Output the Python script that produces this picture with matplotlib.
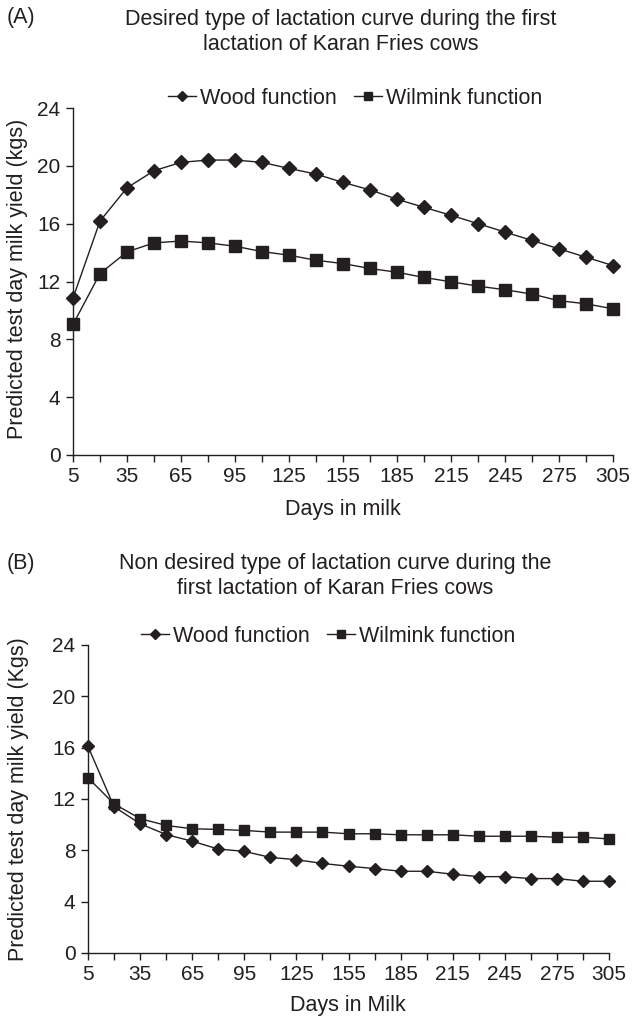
import matplotlib
matplotlib.use("Agg")
import matplotlib.pyplot as plt
from matplotlib.ticker import FixedLocator

plt.rcParams['font.family'] = ['Liberation Sans', 'DejaVu Sans']

days = [5, 20, 35, 50, 65, 80, 95, 110, 125, 140, 155, 170, 185, 200, 215, 230, 245, 260, 275, 290, 305]

wood_a = [10.85, 16.18, 18.48, 19.66, 20.24, 20.4, 20.4, 20.24, 19.82, 19.43, 18.85,
          18.34, 17.69, 17.13, 16.58, 16.0, 15.42, 14.84, 14.26, 13.68, 13.1]
wilmink_a = [9.03, 12.55, 14.05, 14.67, 14.8, 14.67, 14.44, 14.07, 13.82, 13.47, 13.24,
             12.9, 12.64, 12.28, 11.98, 11.68, 11.43, 11.13, 10.67, 10.46, 10.11]

wood_b = [16.1, 11.4, 10.07, 9.23, 8.71, 8.1, 7.92, 7.45, 7.27, 6.98, 6.76,
          6.58, 6.37, 6.37, 6.14, 5.95, 5.95, 5.8, 5.8, 5.59, 5.59]
wilmink_b = [13.65, 11.62, 10.47, 9.94, 9.68, 9.63, 9.55, 9.42, 9.42, 9.42, 9.29,
             9.29, 9.21, 9.21, 9.21, 9.10, 9.10, 9.10, 9.02, 9.02, 8.89]

xtick_labels = [5, 35, 65, 95, 125, 155, 185, 215, 245, 275, 305]
yticks = [0, 4, 8, 12, 16, 20, 24]

W, H = 634, 1019
fig = plt.figure(figsize=(W / 100, H / 100), dpi=100)
INK = '#231f20'
FS = 15.5

def px_axes(l, r, t, b):
    return fig.add_axes([l / W, 1 - b / H, (r - l) / W, (b - t) / H])

def style(ax, wood, wil, ms_d, ms_s):
    ax.plot(days, wood, color=INK, lw=1.0, marker='D', ms=ms_d, mfc=INK, mec=INK,
            clip_on=False, label='Wood function', zorder=3)
    ax.plot(days, wil, color=INK, lw=1.0, marker='s', ms=ms_s, mfc=INK, mec=INK,
            clip_on=False, label='Wilmink function', zorder=3)
    ax.set_xlim(5, 305)
    ax.set_ylim(0, 24)
    ax.xaxis.set_major_locator(FixedLocator(xtick_labels))
    ax.xaxis.set_minor_locator(FixedLocator([d for d in days if d not in xtick_labels]))
    ax.set_yticks(yticks)
    for s in ['top', 'right']:
        ax.spines[s].set_visible(False)
    for s in ['left', 'bottom']:
        ax.spines[s].set_color(INK)
        ax.spines[s].set_linewidth(1.0)
    ax.tick_params(axis='both', which='both', direction='out', length=5, width=1.0,
                   color=INK, labelcolor=INK, labelsize=15)
    ax.tick_params(axis='x', which='major', pad=4)
    ax.tick_params(axis='y', pad=4)

axA = px_axes(73, 613, 108, 455)
style(axA, wood_a, wilmink_a, 7, 8)
axB = px_axes(88, 609, 645, 953)
style(axB, wood_b, wilmink_b, 6.5, 7.5)

def ftext(x, y, s, **kw):
    fig.text(x / W, 1 - y / H, s, color=INK, **kw)

ftext(7, 18, '(A)', fontsize=FS, ha='left', va='center')
ftext(341, 19, 'Desired type of lactation curve during the first', fontsize=FS, ha='center', va='center')
ftext(341, 44, 'lactation of Karan Fries cows', fontsize=FS, ha='center', va='center')
ftext(343, 510, 'Days in milk', fontsize=FS, ha='center', va='center')
ftext(18, 279, 'Predicted test day milk yield (kgs)', fontsize=FS, ha='center', va='center', rotation=90)

ftext(7, 564, '(B)', fontsize=FS, ha='left', va='center')
ftext(335, 564, 'Non desired type of lactation curve during the', fontsize=FS, ha='center', va='center')
ftext(335, 589, 'first lactation of Karan Fries cows', fontsize=FS, ha='center', va='center')
ftext(348, 1005, 'Days in Milk', fontsize=FS, ha='center', va='center')
ftext(19, 799, 'Predicted test day milk yield (Kgs)', fontsize=FS, ha='center', va='center', rotation=90)

for ax, cx, cy in [(axA, 355, 98), (axB, 328, 636)]:
    leg = ax.legend(loc='center', bbox_to_anchor=(cx / W, 1 - cy / H), bbox_transform=fig.transFigure,
                    ncol=2, frameon=False, fontsize=FS, handlelength=1.3, handletextpad=0.2,
                    columnspacing=0.8, borderpad=0, markerscale=0.8)
    for t in leg.get_texts():
        t.set_color(INK)

fig.savefig('out.png', dpi=100)
